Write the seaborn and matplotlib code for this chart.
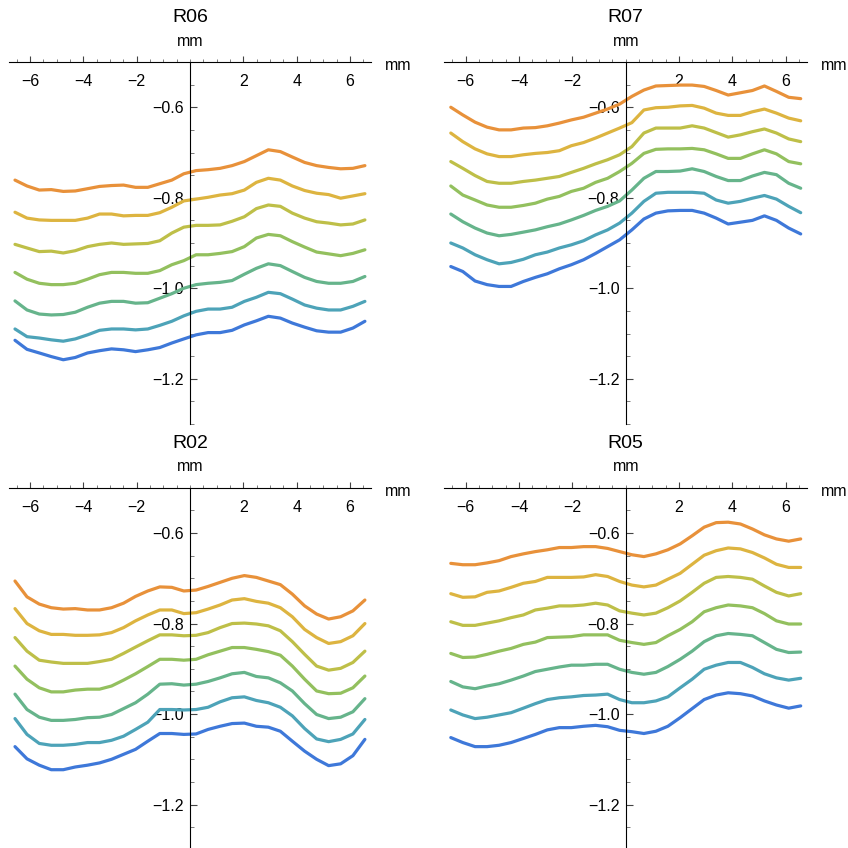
import matplotlib
matplotlib.use("Agg")
import matplotlib.pyplot as plt
import numpy as np
import pandas as pd
import seaborn as sns
from matplotlib.ticker import FixedLocator, MultipleLocator, FuncFormatter

sns.set_style("white")
plt.rcParams['font.family'] = ['Liberation Sans', 'DejaVu Sans']
plt.rcParams['text.color'] = 'black'
plt.rcParams['xtick.labelcolor'] = 'black'
plt.rcParams['ytick.labelcolor'] = 'black'

# ---------------- data ----------------
x_mm = [-6.56, -6.11, -5.65, -5.20, -4.75, -4.30, -3.84, -3.39, -2.94, -2.49,
        -2.04, -1.58, -1.13, -0.68, -0.23, 0.23, 0.68, 1.13, 1.58, 2.04,
        2.49, 2.94, 3.39, 3.84, 4.30, 4.75, 5.20, 5.65, 6.11, 6.56]

levels = ["1", "2", "3", "4", "5", "6", "7"]
palette = ["#E8913A", "#DDB440", "#BEBF48", "#93C05E", "#66B48B", "#4DA3B8", "#3E78D9"]

r06 = [
    [-0.761, -0.774, -0.783, -0.782, -0.786, -0.785, -0.780, -0.775, -0.773, -0.772, -0.777, -0.777, -0.769, -0.761, -0.747, -0.740, -0.738, -0.735, -0.729, -0.720, -0.707, -0.694, -0.698, -0.710, -0.722, -0.729, -0.733, -0.736, -0.735, -0.729],
    [-0.832, -0.845, -0.849, -0.850, -0.850, -0.850, -0.845, -0.836, -0.836, -0.840, -0.839, -0.839, -0.833, -0.821, -0.807, -0.803, -0.799, -0.794, -0.791, -0.783, -0.766, -0.757, -0.761, -0.774, -0.784, -0.790, -0.793, -0.801, -0.796, -0.791],
    [-0.903, -0.911, -0.919, -0.918, -0.922, -0.917, -0.908, -0.903, -0.900, -0.903, -0.902, -0.901, -0.895, -0.878, -0.865, -0.861, -0.861, -0.860, -0.852, -0.842, -0.824, -0.816, -0.819, -0.834, -0.845, -0.853, -0.856, -0.860, -0.858, -0.849],
    [-0.965, -0.980, -0.989, -0.992, -0.992, -0.989, -0.980, -0.970, -0.965, -0.965, -0.967, -0.967, -0.961, -0.948, -0.939, -0.926, -0.926, -0.923, -0.919, -0.908, -0.889, -0.881, -0.884, -0.897, -0.909, -0.920, -0.924, -0.928, -0.923, -0.915],
    [-1.028, -1.048, -1.057, -1.059, -1.058, -1.053, -1.042, -1.033, -1.029, -1.029, -1.033, -1.032, -1.022, -1.012, -1.000, -0.992, -0.989, -0.987, -0.983, -0.969, -0.956, -0.946, -0.950, -0.963, -0.976, -0.985, -0.989, -0.989, -0.985, -0.974],
    [-1.090, -1.107, -1.110, -1.114, -1.117, -1.112, -1.103, -1.093, -1.090, -1.090, -1.092, -1.090, -1.082, -1.073, -1.061, -1.051, -1.046, -1.046, -1.042, -1.029, -1.020, -1.009, -1.012, -1.024, -1.037, -1.044, -1.048, -1.048, -1.040, -1.029],
    [-1.115, -1.135, -1.143, -1.151, -1.158, -1.153, -1.143, -1.138, -1.134, -1.136, -1.140, -1.136, -1.131, -1.121, -1.112, -1.103, -1.098, -1.098, -1.093, -1.081, -1.072, -1.062, -1.066, -1.077, -1.086, -1.094, -1.097, -1.097, -1.088, -1.073],
]

r07 = [
    [-0.600, -0.617, -0.633, -0.644, -0.650, -0.650, -0.646, -0.645, -0.641, -0.635, -0.628, -0.622, -0.613, -0.604, -0.593, -0.576, -0.562, -0.553, -0.552, -0.551, -0.551, -0.554, -0.563, -0.573, -0.568, -0.563, -0.553, -0.565, -0.578, -0.581],
    [-0.657, -0.676, -0.692, -0.703, -0.709, -0.709, -0.705, -0.702, -0.700, -0.696, -0.685, -0.678, -0.668, -0.657, -0.646, -0.634, -0.606, -0.601, -0.600, -0.597, -0.596, -0.602, -0.613, -0.618, -0.618, -0.610, -0.604, -0.613, -0.624, -0.630],
    [-0.720, -0.735, -0.751, -0.764, -0.768, -0.768, -0.764, -0.761, -0.757, -0.753, -0.744, -0.735, -0.725, -0.716, -0.705, -0.687, -0.657, -0.646, -0.646, -0.646, -0.641, -0.646, -0.656, -0.666, -0.661, -0.654, -0.648, -0.657, -0.670, -0.676],
    [-0.774, -0.794, -0.805, -0.816, -0.821, -0.821, -0.817, -0.812, -0.803, -0.797, -0.786, -0.779, -0.766, -0.757, -0.742, -0.724, -0.702, -0.693, -0.692, -0.692, -0.691, -0.694, -0.703, -0.713, -0.713, -0.703, -0.694, -0.703, -0.720, -0.725],
    [-0.836, -0.853, -0.867, -0.878, -0.884, -0.881, -0.876, -0.871, -0.864, -0.858, -0.849, -0.839, -0.828, -0.819, -0.807, -0.783, -0.757, -0.742, -0.742, -0.741, -0.736, -0.742, -0.753, -0.762, -0.762, -0.752, -0.744, -0.749, -0.768, -0.779],
    [-0.900, -0.911, -0.926, -0.937, -0.946, -0.943, -0.936, -0.926, -0.920, -0.911, -0.904, -0.895, -0.882, -0.871, -0.856, -0.834, -0.808, -0.790, -0.788, -0.788, -0.788, -0.790, -0.805, -0.812, -0.808, -0.801, -0.795, -0.803, -0.819, -0.833],
    [-0.952, -0.963, -0.984, -0.992, -0.996, -0.996, -0.985, -0.976, -0.968, -0.957, -0.948, -0.937, -0.923, -0.908, -0.893, -0.871, -0.847, -0.834, -0.829, -0.828, -0.828, -0.834, -0.845, -0.858, -0.854, -0.850, -0.840, -0.850, -0.867, -0.880],
]

r02 = [
    [-0.706, -0.741, -0.757, -0.765, -0.768, -0.767, -0.770, -0.770, -0.765, -0.755, -0.740, -0.728, -0.719, -0.720, -0.728, -0.726, -0.718, -0.709, -0.700, -0.694, -0.698, -0.706, -0.714, -0.735, -0.761, -0.779, -0.790, -0.785, -0.772, -0.748],
    [-0.767, -0.800, -0.816, -0.824, -0.824, -0.826, -0.826, -0.825, -0.820, -0.809, -0.794, -0.781, -0.770, -0.770, -0.778, -0.776, -0.768, -0.759, -0.748, -0.745, -0.751, -0.755, -0.765, -0.785, -0.813, -0.831, -0.844, -0.840, -0.827, -0.800],
    [-0.831, -0.861, -0.881, -0.885, -0.888, -0.888, -0.888, -0.884, -0.879, -0.866, -0.852, -0.838, -0.825, -0.825, -0.827, -0.826, -0.820, -0.809, -0.800, -0.799, -0.801, -0.805, -0.816, -0.840, -0.868, -0.894, -0.903, -0.899, -0.886, -0.861],
    [-0.894, -0.923, -0.942, -0.951, -0.951, -0.947, -0.945, -0.945, -0.938, -0.925, -0.911, -0.895, -0.879, -0.879, -0.881, -0.879, -0.869, -0.861, -0.853, -0.853, -0.857, -0.862, -0.870, -0.894, -0.923, -0.949, -0.955, -0.954, -0.942, -0.916],
    [-0.956, -0.990, -1.007, -1.014, -1.014, -1.012, -1.008, -1.007, -1.001, -0.988, -0.975, -0.956, -0.934, -0.933, -0.936, -0.934, -0.928, -0.920, -0.911, -0.908, -0.917, -0.920, -0.931, -0.949, -0.977, -1.001, -1.010, -1.007, -0.995, -0.966],
    [-1.010, -1.045, -1.065, -1.069, -1.069, -1.067, -1.063, -1.063, -1.058, -1.049, -1.034, -1.018, -0.990, -0.990, -0.991, -0.990, -0.985, -0.973, -0.964, -0.962, -0.970, -0.975, -0.985, -1.004, -1.032, -1.055, -1.061, -1.056, -1.044, -1.012],
    [-1.072, -1.099, -1.113, -1.123, -1.123, -1.117, -1.113, -1.108, -1.100, -1.089, -1.078, -1.060, -1.043, -1.043, -1.045, -1.044, -1.034, -1.027, -1.021, -1.020, -1.027, -1.029, -1.038, -1.060, -1.082, -1.100, -1.114, -1.110, -1.092, -1.056],
]

r05 = [
    [-0.667, -0.670, -0.670, -0.666, -0.661, -0.652, -0.646, -0.641, -0.637, -0.632, -0.632, -0.630, -0.630, -0.634, -0.641, -0.648, -0.652, -0.646, -0.637, -0.624, -0.606, -0.587, -0.577, -0.576, -0.580, -0.591, -0.604, -0.613, -0.618, -0.613],
    [-0.734, -0.742, -0.741, -0.731, -0.728, -0.720, -0.711, -0.707, -0.698, -0.698, -0.698, -0.697, -0.692, -0.696, -0.707, -0.715, -0.719, -0.715, -0.702, -0.689, -0.669, -0.649, -0.639, -0.633, -0.635, -0.643, -0.655, -0.669, -0.676, -0.676],
    [-0.796, -0.804, -0.804, -0.799, -0.794, -0.787, -0.781, -0.770, -0.766, -0.761, -0.761, -0.759, -0.755, -0.759, -0.772, -0.777, -0.781, -0.777, -0.765, -0.750, -0.731, -0.711, -0.698, -0.696, -0.698, -0.702, -0.717, -0.731, -0.739, -0.734],
    [-0.866, -0.875, -0.874, -0.868, -0.861, -0.855, -0.846, -0.841, -0.831, -0.830, -0.829, -0.825, -0.825, -0.825, -0.837, -0.842, -0.846, -0.842, -0.827, -0.813, -0.796, -0.774, -0.765, -0.759, -0.761, -0.765, -0.778, -0.794, -0.801, -0.801],
    [-0.928, -0.940, -0.944, -0.938, -0.933, -0.925, -0.916, -0.906, -0.901, -0.896, -0.892, -0.892, -0.890, -0.890, -0.901, -0.908, -0.912, -0.908, -0.895, -0.879, -0.861, -0.840, -0.827, -0.822, -0.824, -0.827, -0.842, -0.857, -0.864, -0.863],
    [-0.991, -1.002, -1.010, -1.007, -1.002, -0.997, -0.987, -0.977, -0.968, -0.964, -0.962, -0.959, -0.958, -0.956, -0.968, -0.975, -0.975, -0.971, -0.962, -0.942, -0.923, -0.901, -0.892, -0.886, -0.886, -0.897, -0.911, -0.920, -0.925, -0.921],
    [-1.052, -1.063, -1.072, -1.072, -1.069, -1.063, -1.054, -1.045, -1.035, -1.030, -1.030, -1.027, -1.025, -1.028, -1.036, -1.039, -1.043, -1.038, -1.027, -1.008, -0.988, -0.968, -0.958, -0.953, -0.955, -0.960, -0.971, -0.980, -0.987, -0.982],
]

panels = [("R06", r06), ("R07", r07), ("R02", r02), ("R05", r05)]

# ---------------- layout (pixels) ----------------
W = 848.0
AXW, AXH = 362.7, 362.0
positions = {"R06": (8.6, 62.0), "R07": (444.4, 62.0),
             "R02": (8.6, 487.8), "R05": (444.4, 487.8)}

def fmt_minus(fmt):
    return FuncFormatter(lambda v, p: fmt.format(v).replace("-", "\u2212"))

fig = plt.figure(figsize=(8.48, 8.48), dpi=100)

for name, series in panels:
    left, top = positions[name]
    ax = fig.add_axes([left / W, 1 - (top + AXH) / W, AXW / W, AXH / W])
    ax.set_facecolor("none")
    rows = []
    for lvl, ys in zip(levels, series):
        for xv, yv in zip(x_mm, ys):
            rows.append({"x": xv, "y": yv, "level": lvl})
    df = pd.DataFrame(rows)
    sns.lineplot(data=df, x="x", y="y", hue="level", hue_order=levels,
                 palette=palette, linewidth=2.3, legend=False, ax=ax,
                 estimator=None, sort=False)

    ax.set_xlim(-6.8, 6.8)
    ax.set_ylim(-1.3, -0.5)
    ax.set_xlabel("")
    ax.set_ylabel("")

    for s in ("top", "right"):
        ax.spines[s].set_visible(False)
    ax.spines["left"].set_position(("data", 0))
    ax.spines["bottom"].set_position(("data", -0.5))
    for s in ("left", "bottom"):
        ax.spines[s].set_color("black")
        ax.spines[s].set_linewidth(0.8)

    ax.xaxis.set_ticks_position("bottom")
    ax.yaxis.set_ticks_position("left")
    ax.xaxis.set_major_locator(FixedLocator([-6, -4, -2, 2, 4, 6]))
    ax.xaxis.set_minor_locator(MultipleLocator(0.5))
    ax.yaxis.set_major_locator(FixedLocator([-0.6, -0.8, -1.0, -1.2]))
    ax.yaxis.set_minor_locator(MultipleLocator(0.05))
    ax.xaxis.set_major_formatter(fmt_minus("{:.0f}"))
    ax.yaxis.set_major_formatter(fmt_minus("{:.1f}"))

    ax.tick_params(axis="x", which="major", direction="in", length=4, width=0.8,
                   pad=9, labelsize=11.5, color="#444444", labelcolor="black")
    ax.tick_params(axis="x", which="minor", direction="in", length=2.5, width=0.6,
                   color="#666666")
    ax.tick_params(axis="y", which="major", direction="in", length=5, width=0.8,
                   pad=4.5, labelsize=11.5, color="#444444", labelcolor="black")
    ax.tick_params(axis="y", which="minor", direction="in", length=3, width=0.6,
                   color="#666666")

    ax.annotate(name, xy=(0, 1), xycoords=("data", "axes fraction"),
                xytext=(0, 31.7), textcoords="offset points",
                ha="center", va="center", fontsize=14, color="black")
    ax.annotate("mm", xy=(0, 1), xycoords=("data", "axes fraction"),
                xytext=(0, 15), textcoords="offset points",
                ha="center", va="center", fontsize=11.5, color="black")
    ax.annotate("mm", xy=(1, 1), xycoords="axes fraction",
                xytext=(10, -2.5), textcoords="offset points",
                ha="left", va="center", fontsize=11.5, color="black")

fig.savefig("out.png", dpi=100)
